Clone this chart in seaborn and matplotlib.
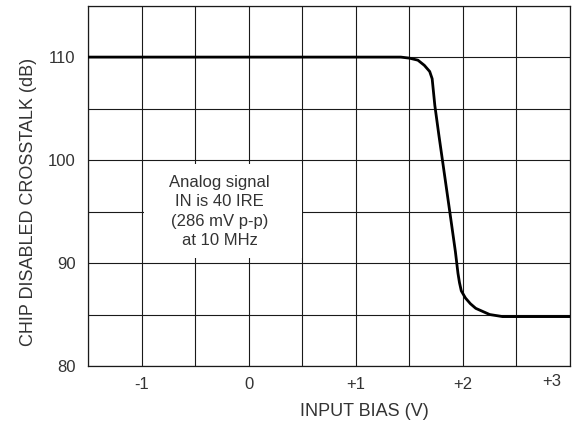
import matplotlib
matplotlib.use("Agg")
import matplotlib.pyplot as plt
import matplotlib.transforms as mtransforms
from matplotlib.patches import Rectangle
from matplotlib.ticker import MultipleLocator
import seaborn as sns
import pandas as pd

# ---- data ----
bias = [-1.5, 1.42, 1.5, 1.58, 1.64, 1.69, 1.713, 1.738, 1.776, 1.828,
        1.88, 1.93, 1.954, 1.968, 1.985, 2.024, 2.07, 2.12, 2.25, 2.37, 3.0]
crosstalk = [110.0, 110.0, 109.9, 109.7, 109.2, 108.6, 107.9, 105.3, 102.4, 98.6,
             94.8, 91.1, 89.0, 88.1, 87.3, 86.6, 86.05, 85.6, 85.0, 84.8, 84.8]
x_ticks = [-1, 0, 1, 2, 3]
x_tick_labels = ["-1", "0", "+1", "+2", "+3"]
y_ticks = [80, 90, 100, 110]
y_tick_labels = ["80", "90", "100", "110"]
note = "Analog signal\nIN is 40 IRE\n(286 mV p-p)\nat 10 MHz"

df = pd.DataFrame({"bias": bias, "crosstalk": crosstalk})

sns.set_theme(style="white")
plt.rcParams["font.family"] = ["Liberation Sans", "DejaVu Sans"]

text_color = "#333333"
grid_color = "#1a1a1a"

fig = plt.figure(figsize=(5.76, 4.25), dpi=100)
ax = fig.add_axes([0.1528, 0.1388, 0.8368, 0.848])

sns.lineplot(data=df, x="bias", y="crosstalk", ax=ax, color="black",
             linewidth=2.0, sort=False, estimator=None, zorder=3)

ax.set_xlim(-1.5, 3.0)
ax.set_ylim(80, 115)

ax.set_xticks(x_ticks)
ax.set_xticklabels(x_tick_labels)
ax.set_yticks(y_ticks)
ax.set_yticklabels(y_tick_labels)
ax.xaxis.set_minor_locator(MultipleLocator(0.5))
ax.yaxis.set_minor_locator(MultipleLocator(5))
ax.tick_params(which="both", length=0, labelsize=12, labelcolor=text_color)
ax.tick_params(axis="x", pad=8)
ax.tick_params(axis="y", pad=9)

ax.set_axisbelow(True)
ax.grid(True, which="both", color=grid_color, linewidth=0.8)
for s in ax.spines.values():
    s.set_visible(True)
    s.set_color(grid_color)
    s.set_linewidth(0.9)

# shift "+3" label left so it stays inside
last = ax.get_xticklabels()[-1]
last.set_transform(last.get_transform() +
                   mtransforms.ScaledTranslation(-0.18, 0.03, fig.dpi_scale_trans))

ax.set_xlabel("INPUT BIAS (V)", fontsize=13, color=text_color)
ax.set_ylabel("CHIP DISABLED CROSSTALK (dB)", fontsize=13, color=text_color)
ax.xaxis.set_label_coords(0.573, -0.103)
ax.yaxis.set_label_coords(-0.106, 0.455)

# white note box covering the grid
ax.add_patch(Rectangle((-0.98, 90.5), 1.475, 9.15, facecolor="white",
                       edgecolor="none", zorder=1))
ax.text(-0.27, 95.0, note, ha="center", va="center", fontsize=12,
        color=text_color, linespacing=1.35, zorder=4)

fig.savefig("out.png", dpi=100)
